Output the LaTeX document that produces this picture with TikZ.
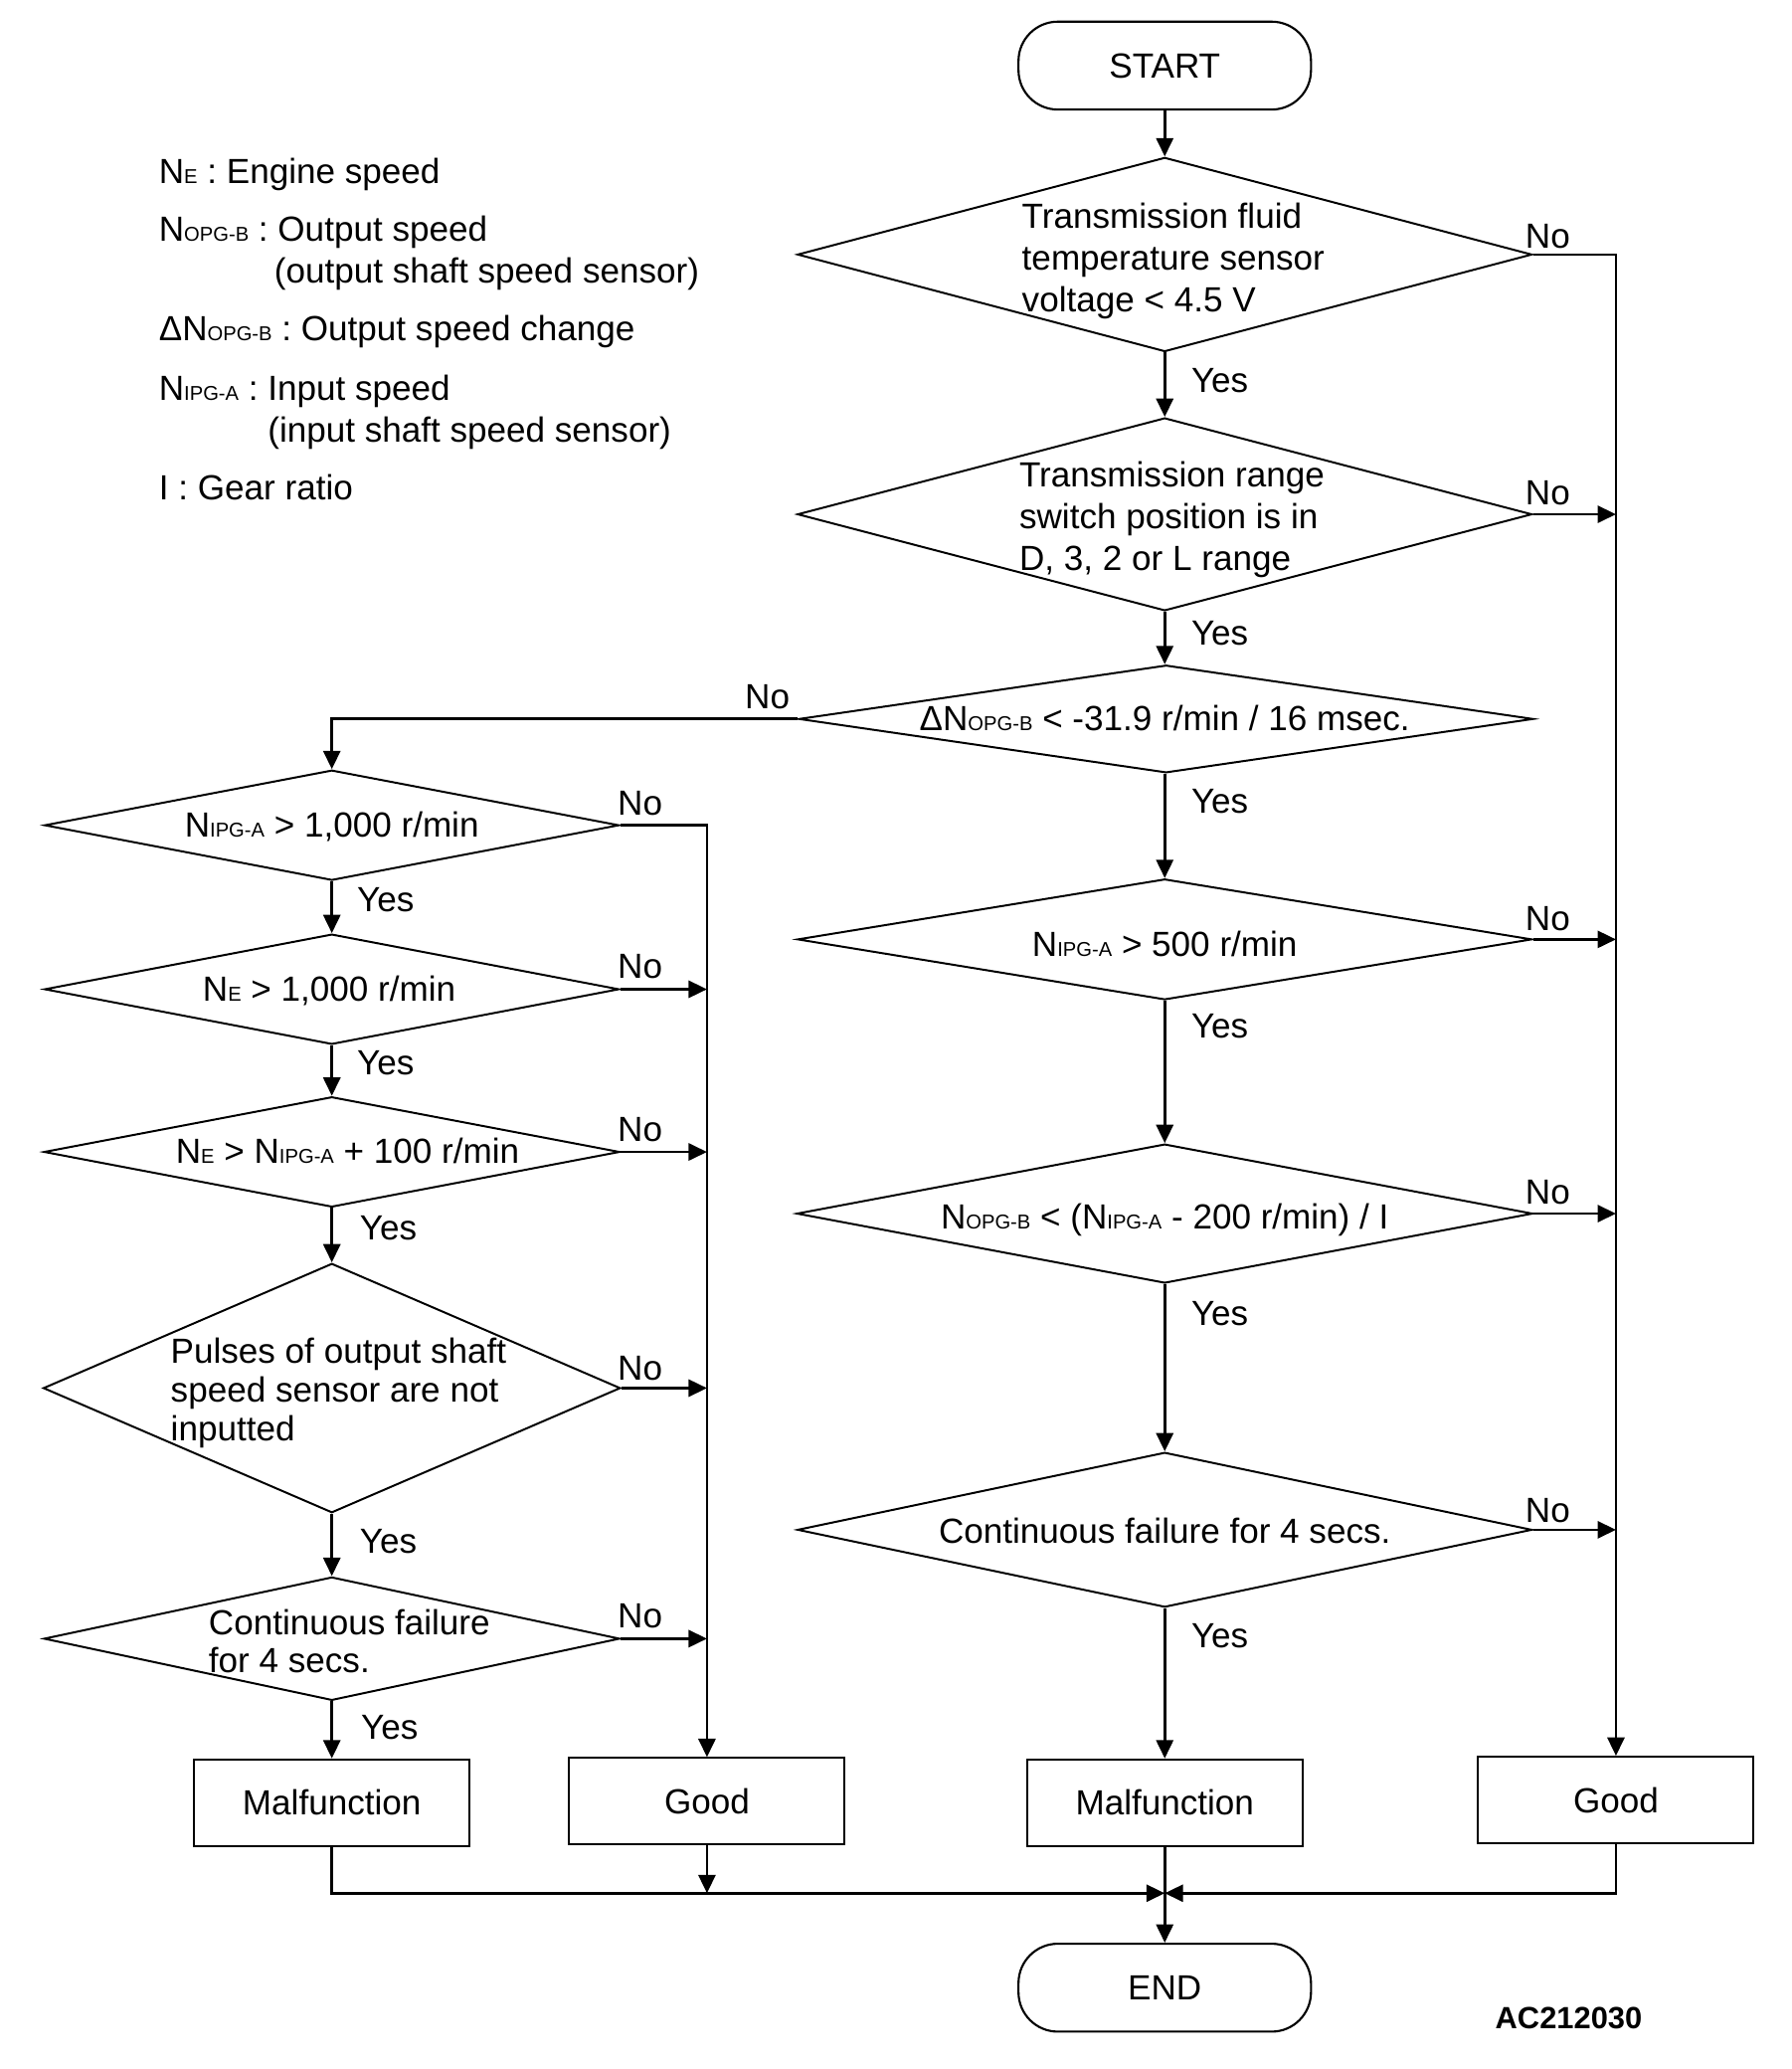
\documentclass[tikz,border=0pt]{standalone}
\usepackage{fontspec}
\setmainfont{Liberation Sans}
\usetikzlibrary{shapes.geometric,arrows.meta,calc}
\newcommand{\sbs}[1]{{\fontsize{15.3}{15.3}\selectfont #1}}
\begin{document}
\begin{tikzpicture}[x=1pt,y=-1pt,
  every node/.style={font=\fontsize{26.6}{32}\selectfont, inner sep=0pt},
  dia/.style={diamond, draw, line width=1.5pt, inner sep=0pt},
  box/.style={rectangle, draw, line width=1.5pt, minimum width=210pt, minimum height=66pt},
  term/.style={rectangle, rounded corners=30pt, draw, line width=1.6pt, minimum width=223pt, minimum height=67pt},
  conn/.style={line width=2pt},
  arr/.style={conn, -{Triangle[length=14pt,width=13pt]}},
  tb/.style={anchor=base},
  tml/.style={anchor=west, align=left},
  lg/.style={anchor=base west}]
\useasboundingbox (0,0) rectangle (1366,1577);

% legend
\node[lg] (l1) at (121,140) {N\sbs{E} : Engine speed};
\node[lg] (l2) at (121,184) {N\sbs{OPG-B} : Output speed};
\node[lg] (l3) at (209,216) {(output shaft speed sensor)};
\node[lg] (l4) at (121,260) {ΔN\sbs{OPG-B} : Output speed change};
\node[lg] (l5) at (121,305) {N\sbs{IPG-A} : Input speed};
\node[lg] (l6) at (204,337) {(input shaft speed sensor)};
\node[lg] (l7) at (121,381) {I : Gear ratio};

% terminals
\node[term] (start) at (888,50) {START};
\node[term] (end) at (888,1515) {END};

% right column
\node[dia, minimum width=560pt, minimum height=148pt] (d1) at (888,194) {};
\node[tml] (t1) at (779,199) {Transmission fluid\\temperature sensor\\voltage < 4.5 V};
\node[dia, minimum width=560pt, minimum height=147pt] (d2) at (888,392) {};
\node[tml] (t2) at (777,396) {Transmission range\\switch position is in\\D, 3, 2 or L range};
\node[dia, minimum width=560pt, minimum height=82pt] (d3) at (889,548) {};
\node[tb] (t3) at (888,557) {ΔN\sbs{OPG-B} < -31.9 r/min / 16 msec.};
\node[dia, minimum width=560pt, minimum height=92pt] (d5) at (888,716) {};
\node[tb] (t5) at (888,729) {N\sbs{IPG-A} > 500 r/min};
\node[dia, minimum width=561pt, minimum height=106pt] (d6) at (888,925) {};
\node[tb] (t6) at (888,937) {N\sbs{OPG-B} < (N\sbs{IPG-A} - 200 r/min) / I};
\node[dia, minimum width=560pt, minimum height=118pt] (d7) at (888,1166) {};
\node[tb] (t7) at (888,1176) {Continuous failure for 4 secs.};
\node[box] (mr) at (888,1374) {Malfunction};
\node[box] (gr) at (1232,1372) {Good};

% left column
\node[dia, minimum width=438pt, minimum height=84pt] (d4) at (253,629) {};
\node[tb] (t4) at (253,638) {N\sbs{IPG-A} > 1,000 r/min};
\node[dia, minimum width=438pt, minimum height=84pt] (d8) at (253,754) {};
\node[tb] (t8) at (251,763) {N\sbs{E} > 1,000 r/min};
\node[dia, minimum width=439pt, minimum height=84pt] (d9) at (253,878) {};
\node[tb] (t9) at (265,887) {N\sbs{E} > N\sbs{IPG-A} + 100 r/min};
\node[dia, minimum width=440pt, minimum height=190pt] (d10) at (253,1058) {};
\node[tml, font=\fontsize{26.6}{29.5}\selectfont] (t10) at (130,1062) {Pulses of output shaft\\speed sensor are not\\inputted};
\node[dia, minimum width=439pt, minimum height=94pt] (d11) at (253,1249) {};
\node[tml, font=\fontsize{26.6}{29}\selectfont] (t11) at (159,1251) {Continuous failure\\for 4 secs.};
\node[box] (ml) at (253,1374) {Malfunction};
\node[box] (gl) at (539,1373) {Good};

% Yes / No labels
\node (y1) at (930,290) {Yes};
\node (y2) at (930,483) {Yes};
\node (y3) at (930,611) {Yes};
\node (y5) at (930,782) {Yes};
\node (y6) at (930,1001) {Yes};
\node (y7) at (930,1247) {Yes};
\node (y4) at (294,686) {Yes};
\node (y8) at (294,810) {Yes};
\node (y9) at (296,936) {Yes};
\node (y10) at (296,1175) {Yes};
\node (y11) at (297,1317) {Yes};
\node (n1) at (1180,180) {No};
\node (n2) at (1180,376) {No};
\node (n5) at (1180,700) {No};
\node (n6) at (1180,909) {No};
\node (n7) at (1180,1151) {No};
\node (n3) at (585,531) {No};
\node (n4) at (488,612) {No};
\node (n8) at (488,737) {No};
\node (n9) at (488,861) {No};
\node (n10) at (488,1043) {No};
\node (n11) at (488,1232) {No};

\node[font=\bfseries\fontsize{23.4}{28}\selectfont] (code) at (1196,1538) {AC212030};

% connectors right column
\draw[arr] (start.south) -- (d1.north);
\draw[arr] (d1.south) -- (d2.north);
\draw[arr] (d2.south) -- (d3.north -| d2.south);
\draw[arr] (d3.south -| d2.south) -- (d5.north);
\draw[arr] (d5.south) -- (d6.north);
\draw[arr] (d6.south) -- (d7.north);
\draw[arr] (d7.south) -- (mr.north);
\draw[arr] (mr.south) -- (end.north);
\draw[arr] (d1.east) -- (d1.east -| gr.north) -- (gr.north);
\draw[arr] (d2.east) -- (d2.east -| gr.north);
\draw[arr] (d5.east) -- (d5.east -| gr.north);
\draw[arr] (d6.east) -- (d6.east -| gr.north);
\draw[arr] (d7.east) -- (d7.east -| gr.north);

% connectors left column
\draw[arr] (d3.west) -| (d4.north);
\draw[arr] (d4.south) -- (d8.north);
\draw[arr] (d8.south) -- (d9.north);
\draw[arr] (d9.south) -- (d10.north);
\draw[arr] (d10.south) -- (d11.north);
\draw[arr] (d11.south) -- (ml.north);
\draw[arr] (d4.east) -- (d4.east -| gl.north) -- (gl.north);
\draw[arr] (d8.east) -- (d8.east -| gl.north);
\draw[arr] (d9.east) -- (d9.east -| gl.north);
\draw[arr] (d10.east) -- (d10.east -| gl.north);
\draw[arr] (d11.east) -- (d11.east -| gl.north);

% bottom merge
\coordinate (bus) at (888,1443);
\draw[arr] (ml.south) |- (bus);
\draw[arr] (gl.south) -- (gl.south |- bus);
\draw[arr] (gr.south) |- (bus);
\end{tikzpicture}
\end{document}
